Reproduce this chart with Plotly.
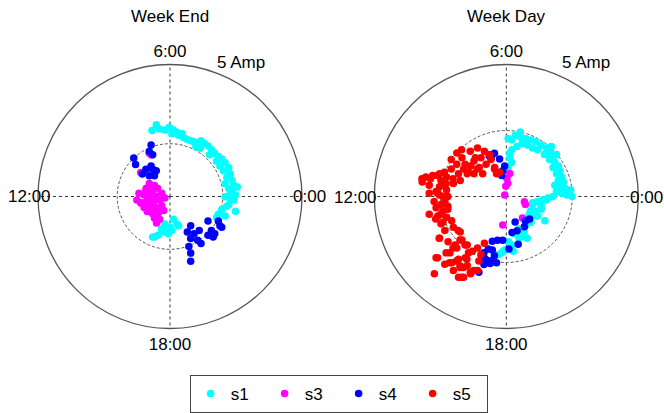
import numpy as np
import plotly.graph_objects as go

# Phasor components (amps): re = toward 0:00, im = toward 6:00
# ---- Week End ----
we_s1_re = [-1.30,-1.70,-0.98,-0.49,-0.07,0.32,0.66,0.17,0.81,1.15,1.30,1.64,1.96,2.28,2.62,
            2.94,3.26,3.60,2.87,2.45,3.92,4.24,3.75,4.58,4.90,4.41,5.22,4.73,5.56,5.07,
            5.71,5.39,5.88,5.22,6.05,5.56,6.37,5.71,6.20,5.88,5.22,6.05,5.56,6.20,4.90,
            4.58,5.22,4.41,5.71,5.39,0.32,0.66,-0.32,0.17,-0.66,-1.15,-1.64,-0.17,-0.81,-0.49,
            0.81,-1.47,0.00]
we_s1_im = [6.80,6.25,6.39,6.30,6.55,6.30,6.09,5.94,5.79,5.94,5.57,5.39,5.27,5.18,5.02,
            5.27,5.02,4.78,4.56,4.72,4.42,4.10,3.96,3.80,3.55,3.34,3.19,2.89,2.73,2.43,
            2.13,1.81,1.51,1.21,1.05,0.75,0.90,0.29,0.14,0.44,-0.02,-0.32,-0.78,-1.39,-1.24,
            -1.69,-1.85,-2.00,-0.16,-0.93,-2.15,-2.61,-2.91,-3.22,-3.37,-3.68,-3.83,-3.53,-3.07,-2.61,
            -2.77,-3.83,-2.91]
we_s3_re = [-1.79,-2.77,-1.96,-1.47,-2.25,-1.67,-1.18,-2.94,-2.45,-1.96,-1.37,-0.78,-3.14,-2.65,-2.16,
            -1.57,-0.98,-0.49,-2.45,-1.96,-1.37,-0.78,-2.16,-1.67,-1.08,-0.59,-1.47,-0.98,-1.27,-2.28,
            -2.77,-1.96]
we_s3_im = [3.96,2.27,1.24,1.05,0.78,0.60,0.78,0.32,0.14,0.05,0.05,0.32,-0.32,-0.60,-0.41,
            -0.50,-0.32,-0.14,-1.05,-0.96,-1.05,-0.87,-1.42,-1.60,-1.51,-1.33,-2.06,-2.15,-2.52,0.60,
            -0.62,4.10]
we_s4_re = [-1.79,-1.96,-1.64,-3.43,-3.26,-1.79,-2.28,-1.64,-1.30,-2.62,-1.96,-1.47,
            1.96,1.64,2.28,2.77,2.62,2.94,1.96,1.79,1.96,1.96,3.60,3.92,4.24,4.73,4.58,4.09,4.90,3.60]
we_s4_im = [4.87,4.26,3.96,3.65,3.04,2.89,2.58,2.58,2.43,2.13,1.97,1.97,
            -2.77,-3.37,-3.53,-3.22,-4.14,-4.44,-3.98,-4.74,-5.36,-6.12,-2.31,-3.22,-3.53,-2.77,-2.31,-3.83,-2.91,-3.68]

# ---- Week Day ----
wd_s1_re = [0.67,0.41,1.06,1.45,1.84,2.23,1.58,1.19,0.80,0.41,
            2.63,3.02,2.37,1.98,3.41,3.28,2.89,3.54,3.80,3.28,
            3.67,3.94,3.54,4.06,3.80,4.19,3.94,4.33,3.67,4.06,
            4.45,3.80,4.19,4.59,4.98,3.54,3.15,2.76,2.37,1.98,
            2.63,0.27,0.27,0.41,0.14,4.88,
            3.04,2.52,2.00,2.65,2.13,1.74,2.26,2.92,1.87,
            1.47,0.96,1.35,0.56,0.96,0.17,0.43,-0.09,-0.35,-0.61,
            2.37,2.63,1.32,1.58,0.80,0.41,-0.25,0.53,1.84,
            1.06,0.14]
wd_s1_im = [4.65,4.28,4.52,4.40,4.28,4.16,3.91,4.03,3.79,3.55,
            3.91,3.67,3.55,3.67,3.79,3.30,3.18,2.93,3.18,2.81,
            2.57,2.32,2.20,1.96,1.72,1.47,1.22,1.10,0.86,0.73,
            0.62,0.37,0.25,0.12,0.00,0.00,-0.12,-0.24,-0.37,-0.48,
            -0.61,3.30,2.93,2.57,2.20,0.49,
            -0.24,-0.48,-0.61,-0.85,-1.10,-1.34,-1.47,-1.83,-1.95,
            -2.20,-2.44,-2.68,-2.81,-3.17,-3.42,-3.78,-4.03,-4.27,-4.40,
            -1.47,-0.97,-3.05,-3.17,-2.81,-3.67,-4.15,-4.15,-1.10,
            4.89,4.40]
wd_s3_re = [-0.35,0.04,0.27,0.12,-0.04,-0.12,1.37,1.45,1.22,-0.27]
wd_s3_im = [1.74,1.37,1.74,1.00,0.78,0.12,-0.39,-0.61,-1.63,-2.15]
wd_s4_re = [-0.90,-1.14,-0.51,-0.12,-0.27,-0.35,-1.29,
            0.67,1.45,1.76,1.37,0.82,0.43,-0.27,-1.06,-0.67,0.90,0.20,-1.06,-1.37,-0.90,-1.14,
            -1.69,-1.53,-1.69,-1.22,-0.74,-2.08,-1.69]
wd_s4_im = [3.28,2.91,2.84,2.32,1.96,1.59,3.06,
            -1.93,-1.85,-1.71,-2.29,-2.59,-2.73,-3.32,-3.39,-3.32,-3.61,-3.98,-4.05,-3.98,-4.49,-4.86,
            -4.64,-4.79,-4.27,-5.08,-5.01,-5.74,-5.15]
wd_s5_re = [-2.18,-1.66,-1.27,-1.92,-2.45,-1.53,-2.05,-2.70,-3.23,-3.62,
            -2.96,-2.45,-1.79,-3.49,-4.01,-4.53,-5.06,-5.58,-6.10,-6.37,
            -5.84,-5.06,-4.53,-5.32,-4.80,-3.36,-3.75,-0.88,-0.74,-3.75,
            -3.39,-2.73,-3.12,-4.17,-4.69,-5.21,-4.95,-5.74,-4.56,-4.04,
            -2.86,-2.21,-5.21,-4.43,-5.47,-4.95,-4.43,-6.39,-4.17,-2.34,
            -4.66,-5.84,-5.06,-4.66,-5.32,-4.80,-5.84,-5.19,-4.53,-4.14,
            -4.80,-4.01,-3.49,-4.66,-5.06,-4.41,-3.88,-3.36,-3.75,-4.27,
            -5.32,-4.66,-4.14,-3.62,-3.10,-2.96,-3.49,-4.01,-5.45,-3.62,
            -3.23,-2.70,-2.18,-2.18,-1.66,-1.92,-2.96,-2.57,-4.43,-4.95,
            -5.35,-4.95,-3.65,-5.08,-3.51,-3.12,-4.04,-4.56,-5.21,-4.30,
            -3.78,-2.99,-3.25,-2.73,-2.47,-3.39,-2.08,-2.86,-3.51,-1.16,
            -0.90,-0.51]
wd_s5_im = [3.67,3.42,3.18,2.93,2.69,2.45,2.20,2.32,2.08,1.72,
            1.72,1.72,1.72,1.22,0.98,1.47,1.72,1.59,1.47,1.10,
            0.86,0.73,0.49,0.37,0.00,2.93,2.45,2.20,1.72,3.30,
            3.55,3.42,2.45,2.08,1.83,1.59,1.22,1.35,0.98,1.35,
            1.83,2.08,0.25,0.00,-0.37,-0.61,-0.73,1.35,2.81,2.93,
            0.86,0.25,0.12,-0.37,-0.85,-1.10,-1.34,-1.47,-1.58,-1.83,
            -1.95,-2.32,-2.68,-2.57,-3.17,-3.42,-3.67,-3.30,-3.91,-4.27,
            -4.64,-5.13,-5.01,-4.76,-4.64,-5.25,-5.37,-5.61,-5.86,-6.11,
            -6.11,-5.86,-5.61,-3.91,-3.54,-4.40,-3.67,-4.15,-0.97,-1.34,
            -1.71,-2.07,-2.57,-3.17,-3.30,-3.67,-3.91,-4.27,-4.64,-5.01,
            -4.88,-4.76,-5.37,-5.74,-5.61,-6.11,-4.88,-4.27,-5.25,2.81,
            2.08,1.83]

hour_ticks = [0, 6, 12, 18]
hour_labels = ["0:00", "6:00", "12:00", "18:00"]
series_names = ["s1", "s3", "s4", "s5"]
series_colors = {"s1": "#00FFFF", "s3": "#FF00FF", "s4": "#0000FF", "s5": "#FF0000"}

week_end = {"s1": (we_s1_re, we_s1_im), "s3": (we_s3_re, we_s3_im), "s4": (we_s4_re, we_s4_im)}
week_day = {"s1": (wd_s1_re, wd_s1_im), "s3": (wd_s3_re, wd_s3_im), "s4": (wd_s4_re, wd_s4_im),
            "s5": (wd_s5_re, wd_s5_im)}

FONT = "Arial, Liberation Sans, sans-serif"

def polar_of(re, im):
    re = np.asarray(re); im = np.asarray(im)
    amp = np.hypot(re, im)
    hour = (np.degrees(np.arctan2(im, re)) % 360) / 15.0
    return amp, hour

fig = go.Figure()
shown = set()
for sub, data in (("polar", week_end), ("polar2", week_day)):
    for name in series_names:
        if name not in data:
            continue
        amp, hour = polar_of(*data[name])
        fig.add_trace(go.Scatterpolar(
            r=amp, theta=hour * 15, mode="markers", name=name, subplot=sub,
            legendgroup=name, showlegend=name not in shown,
            marker=dict(color=series_colors[name], size=7.5, line=dict(width=0)),
        ))
        shown.add(name)

# 0:00 and 12:00 labels sit on the circle in the reference: drawn as annotations
axis_ticktext = [t if h in (6, 18) else "" for h, t in zip(hour_ticks, hour_labels)]

def polar_layout(domx, rmax):
    return dict(
        domain=dict(x=domx, y=[0.2046, 0.8438]),
        bgcolor="white",
        angularaxis=dict(
            rotation=0, direction="counterclockwise", thetaunit="degrees",
            tickmode="array", tickvals=[h * 15 for h in hour_ticks], ticktext=axis_ticktext,
            showline=True, linecolor="#555555", linewidth=1.3,
            showgrid=True, gridcolor="#333333", gridwidth=1, griddash="dot",
            ticks="", tickfont=dict(size=17, color="black", family=FONT),
        ),
        radialaxis=dict(
            range=[0, rmax], tickmode="array", tickvals=[5], showticklabels=False,
            showline=False, ticks="", showgrid=True, gridcolor="#555555",
            gridwidth=1, griddash="3px,2px",
        ),
    )

def ann(text, x, y):
    return dict(text=text, x=x / 664, y=1 - y / 413, xref="paper", yref="paper",
                showarrow=False, font=dict(size=17), xanchor="center", yanchor="middle")

fig.update_layout(
    width=664, height=413,
    margin=dict(l=0, r=0, t=0, b=0),
    paper_bgcolor="white",
    font=dict(family=FONT, size=17, color="black"),
    polar=polar_layout([0.0572, 0.4548], 12.5),
    polar2=polar_layout([0.5637, 0.9613], 10),
    showlegend=True,
    legend=dict(
        orientation="h", x=0.51, xanchor="center", y=0.0, yanchor="bottom",
        bordercolor="#444444", borderwidth=1, bgcolor="white",
        font=dict(size=17, family=FONT), itemwidth=30,
        entrywidth=29, entrywidthmode="pixels", traceorder="normal",
    ),
    annotations=[
        ann("Week End", 170, 17), ann("Week Day", 506, 17),
        ann("5 Amp", 241, 62), ann("5 Amp", 586, 62),
        ann(hour_labels[2], 29, 196), ann(hour_labels[0], 309, 196),
        ann(hour_labels[2], 355, 197), ann(hour_labels[0], 646, 197),
    ],
)

fig.write_html("out.html")
